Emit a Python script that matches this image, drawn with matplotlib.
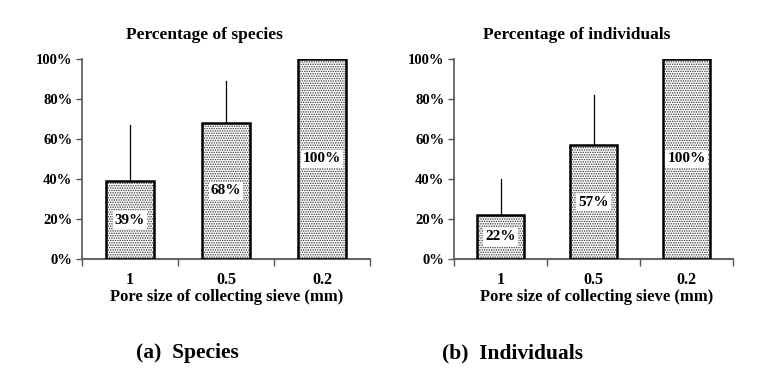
import matplotlib
matplotlib.use("Agg")
import matplotlib.pyplot as plt
import numpy as np

categories = ["1", "0.5", "0.2"]
species_vals = [39, 68, 100]
species_err_top = [67, 89, 100]
indiv_vals = [22, 57, 100]
indiv_err_top = [40, 82, 100]
titles = ["Percentage of species", "Percentage of individuals"]
panel_labels = ["(a)  Species", "(b)  Individuals"]
xlabel = "Pore size of collecting sieve (mm)"
yticks = [0, 20, 40, 60, 80, 100]

plt.rcParams['font.family'] = ['Liberation Serif', 'DejaVu Serif']
plt.rcParams['font.weight'] = 'bold'
plt.rcParams['hatch.linewidth'] = 0.7

fig = plt.figure(figsize=(7.7, 3.84), dpi=100)
axes_specs = [
    (82/770, 1-259/384, 288/770, 200/384),
    (454/770, 1-259/384, 279/770, 200/384),
]
title_x = [204/770, 577/770]
xlabel_x = [227/770, 597/770]
panel_x = [187/770, 513/770]

data = [(species_vals, species_err_top), (indiv_vals, indiv_err_top)]
for i, (vals, errs) in enumerate(data):
    ax = fig.add_axes(axes_specs[i])
    x = np.arange(len(categories))
    for xi, v, e in zip(x, vals, errs):
        if e > v:
            ax.plot([xi, xi], [v, e], color='black', lw=0.9, zorder=1)
    ax.bar(x, vals, width=0.5, color='white', edgecolor='#333333', hatch='.' * 7, lw=0, zorder=2)
    ax.bar(x, vals, width=0.5, fill=False, edgecolor='black', lw=1.8, zorder=3)
    for xi, v in zip(x, vals):
        ax.text(xi, v/2, f"{v}%", ha='center', va='center', fontsize=11, fontweight='bold',
                bbox=dict(facecolor='white', edgecolor='none', pad=1.5), zorder=4)
    ax.set_xlim(-0.5, 2.5)
    ax.set_ylim(0, 100)
    ax.set_yticks(yticks)
    ax.set_yticklabels([f"{t}%" for t in yticks], fontsize=10.5, fontweight='bold')
    ax.set_xticks(x)
    ax.set_xticklabels(categories, fontsize=11.5, fontweight='bold')
    ax.tick_params(axis='x', which='major', length=0, pad=9)
    ax.set_xticks([-0.5, 0.5, 1.5, 2.5], minor=True)
    ax.tick_params(axis='x', which='minor', length=5, color='#555555', width=1)
    ax.tick_params(axis='y', length=4, width=1, color='#555555', pad=3)
    for s in ['top', 'right']:
        ax.spines[s].set_visible(False)
    ax.spines['bottom'].set_color('#666666')
    ax.spines['bottom'].set_linewidth(1.5)
    ax.spines['left'].set_color('#555555')
    ax.spines['left'].set_linewidth(1.2)
    fig.text(title_x[i], 1-35/384, titles[i], ha='center', va='center', fontsize=12.5, fontweight='bold')
    fig.text(xlabel_x[i], 1-297/384, xlabel, ha='center', va='center', fontsize=12, fontweight='bold')
    fig.text(panel_x[i], 1-353/384, panel_labels[i], ha='center', va='center', fontsize=15.5, fontweight='bold')

fig.savefig("out.png", dpi=100)
